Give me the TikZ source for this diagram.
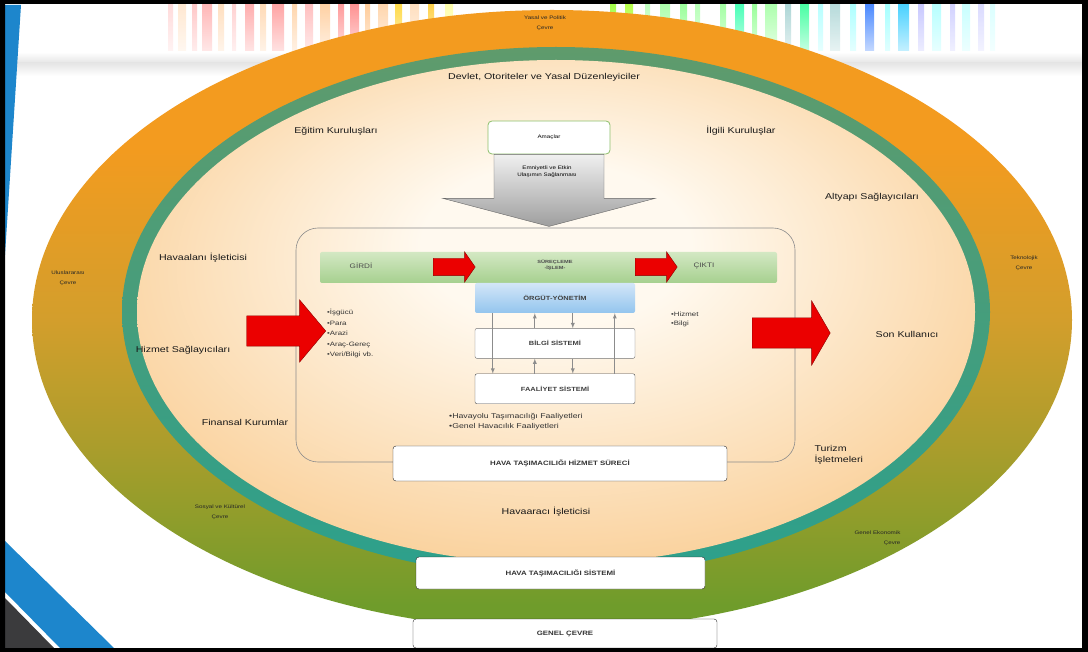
\documentclass[tikz,border=0pt]{standalone}
\usepackage{fontspec}
\setmainfont[FakeStretch=1.25]{Liberation Sans}
\usetikzlibrary{shapes,arrows,fit,calc,positioning,shadings}

\definecolor{ringorange}{HTML}{F39B1F}
\definecolor{ringgold}{HTML}{D39E2C}
\definecolor{ringgreen}{HTML}{6F9C2B}
\definecolor{tealtop}{HTML}{5F9B6C}
\definecolor{tealmid}{HTML}{3EA072}
\definecolor{tealbot}{HTML}{2CA08C}
\definecolor{creamin}{HTML}{FFF9EF}
\definecolor{creamout}{HTML}{F8C27C}
\definecolor{barlight}{HTML}{D3E8C3}
\definecolor{bardark}{HTML}{A6D08F}
\definecolor{orglight}{HTML}{D3E6F8}
\definecolor{orgdark}{HTML}{93C5EE}
\definecolor{slideblue}{HTML}{1D86CC}
\definecolor{slidegrey}{HTML}{3B3B3D}
\definecolor{goalgreen}{HTML}{8DBF6B}

\pgfdeclareverticalshading{ringshade}{100bp}{color(0bp)=(ringgreen); color(27bp)=(ringgreen); color(40bp)=(ringgold!60!ringgreen); color(50bp)=(ringgold); color(64bp)=(ringorange); color(100bp)=(ringorange)}
\pgfdeclareradialshading{creamglow}{\pgfpoint{0bp}{8bp}}{color(0bp)=(creamin); color(8bp)=(creamin); color(30bp)=(creamout!75!creamin); color(50bp)=(creamout)}

\begin{document}
\begin{tikzpicture}[x=1pt,y=-1pt,
    envtext/.style={font=\fontsize{5}{10}\selectfont,align=center,text=black!85},
    actor/.style={font=\fontsize{8.5}{11}\selectfont,text=black!90},
    syslabel/.style={draw=black!85,fill=white,rounded corners=3pt,font=\bfseries\fontsize{6.3}{8}\selectfont,text=black!80},
    unit/.style={rounded corners=2pt,minimum width=160pt,minimum height=30pt,font=\bfseries\fontsize{6}{8}\selectfont,text=black!75},
    bullets/.style={font=\fontsize{6.3}{10.5}\selectfont,align=left,text=black!80,inner sep=0pt,anchor=north west},
    redarrow/.style={single arrow,draw=red!55!black,fill=red!92!black,inner xsep=0pt,minimum width=0pt},
    link/.style={draw=black!45,line width=0.8pt,-latex}
  ]
  \useasboundingbox (0,0) rectangle (1088,652);
  \fill[white] (0,0) rectangle (1088,652);

  \foreach \sx/\sw/\sc in {168/5/red!20, 178/8/orange!25, 192/5/red!30, 202/10/red!40, 218/6/orange!35,
      232/4/red!25, 245/9/red!45, 260/6/orange!40, 272/12/red!50, 292/5/orange!45, 305/8/red!35,
      320/10/orange!50, 338/6/red!55, 350/9/red!60, 365/5/orange!55, 378/10/orange!45,
      395/7/yellow!60!orange, 410/9/orange!35, 428/6/yellow!50!orange, 445/8/yellow!45,
      610/6/yellow!50!green, 625/8/green!40!yellow, 645/5/green!35, 660/10/green!45, 680/7/green!55,
      695/5/green!40, 720/6/green!50, 735/9/green!40!cyan, 752/5/green!55, 765/12/green!45,
      785/6/teal!45, 800/9/green!50!cyan, 818/5/cyan!40, 830/10/teal!40, 850/6/cyan!45,
      865/9/cyan!35!blue, 885/5/cyan!50, 898/11/blue!25!cyan, 918/6/blue!30, 932/9/cyan!40,
      950/5/blue!25, 962/8/cyan!30, 978/6/blue!20, 990/5/cyan!20}
    \shade[top color=\sc, bottom color=white, opacity=0.7] (\sx,5) rectangle ++(\sw,68);
  \shade[top color=white, bottom color=black!10] (5,52) rectangle (1083,63);
  \shade[top color=black!10, bottom color=white] (5,63) rectangle (1083,76);

  \fill[slideblue] (5,5) -- (21,5) -- (5,255) -- cycle;
  \fill[slideblue] (5,541) -- (114,648) -- (60,648) -- (5,592) -- cycle;
  \fill[slidegrey] (5,598) -- (54,648) -- (5,648) -- cycle;

  \shade[shading=ringshade] (552,320) ellipse [x radius=520pt, y radius=310pt];
  \shade[top color=tealtop, middle color=tealmid, bottom color=tealbot] (556,312) ellipse [x radius=434pt, y radius=265pt];
  \shade[shading=creamglow] (556,312) ellipse [x radius=419pt, y radius=252pt];

  \node[envtext] (env_politic) at (545,23) {Yasal ve Politik\\Çevre};
  \node[envtext] (env_intl) at (68,278) {Uluslararası\\Çevre};
  \node[envtext] (env_tech) at (1024,263) {Teknolojik\\Çevre};
  \node[envtext] (env_social) at (220,512) {Sosyal ve Kültürel\\Çevre};
  \node[envtext,align=right,anchor=east] (env_economy) at (904,538) {Genel Ekonomik\\Çevre};

  \node[actor] (gov) at (544,77) {Devlet, Otoriteler ve Yasal Düzenleyiciler};
  \node[actor] (edu) at (336,131) {Eğitim Kuruluşları};
  \node[actor] (related) at (741,131) {İlgili Kuruluşlar};
  \node[actor] (infra) at (872,197) {Altyapı Sağlayıcıları};
  \node[actor] (airport) at (203,258) {Havaalanı İşleticisi};
  \node[actor] (service) at (183,350) {Hizmet Sağlayıcıları};
  \node[actor] (finance) at (245,422) {Finansal Kurumlar};
  \node[actor] (end_user) at (907,334) {Son Kullanıcı};
  \node[actor,align=left,anchor=west] (tourism) at (811,455) {Turizm\\İşletmeleri};
  \node[actor] (aircraft_op) at (546,512) {Havaaracı İşleticisi};

  \node[draw=black!45,line width=0.6pt,rounded corners=22pt,minimum width=499pt,minimum height=234pt] (process) at (545.5,345) {};

  \node[draw=goalgreen,line width=0.8pt,fill=white,rounded corners=4pt,minimum width=122pt,minimum height=33pt,font=\fontsize{5}{6}\selectfont] (goals) at (549,137.5) {Amaçlar};
  \shade[draw=black!60,top color=black!6,bottom color=black!38]
    (goals.south) ++(-55,0) -- ++(0,44) -- ++(-51,0) -- ++(106,28) -- ++(106,-28) -- ++(-51,0) -- ++(0,-44) -- cycle;
  \node[font=\fontsize{5}{7}\selectfont,align=center] (goal_text) at (547,172) {Emniyetli ve Etkin\\Ulaşımın Sağlanması};

  \node[rounded corners=2pt,top color=barlight,bottom color=bardark,minimum width=457pt,minimum height=31pt] (flow_bar) at (548.5,267.5) {};
  \node[font=\fontsize{6.5}{8}\selectfont,text=black!70] (input_lbl) at (361,266) {GİRDİ};
  \node[font=\bfseries\fontsize{4.5}{5.5}\selectfont,align=center,text=black!70] (proc_lbl) at (555,265) {SÜREÇLEME\\-İŞLEM-};
  \node[font=\fontsize{6.5}{8}\selectfont,text=black!70] (output_lbl) at (704,266) {ÇIKTI};
  \node[redarrow,anchor=tail,minimum height=42pt,inner ysep=8.5pt,single arrow head extend=6.5pt,single arrow tip angle=110] (flow_in) at (433,267) {};
  \node[redarrow,anchor=tail,minimum height=42pt,inner ysep=8.5pt,single arrow head extend=6.5pt,single arrow tip angle=110] (flow_out) at (635,267) {};

  \node[unit,top color=orglight,bottom color=orgdark] (org_mgmt) at (555,298) {ÖRGÜT-YÖNETİM};
  \node[unit,draw=black!55,fill=white,below=15pt of org_mgmt] (info_sys) {BİLGİ SİSTEMİ};
  \node[unit,draw=black!70,fill=white,below=15pt of info_sys] (activity_sys) {FAALİYET SİSTEMİ};

  \draw[link] ([xshift=18pt]org_mgmt.south west) -- ([xshift=18pt]activity_sys.north west);
  \draw[link] ([xshift=60pt]info_sys.north west) -- ([xshift=60pt]org_mgmt.south west);
  \draw[link] ([xshift=98pt]org_mgmt.south west) -- ([xshift=98pt]info_sys.north west);
  \draw[link] ([xshift=140pt]activity_sys.north west) -- ([xshift=140pt]org_mgmt.south west);
  \draw[link] ([xshift=60pt]activity_sys.north west) -- ([xshift=60pt]info_sys.south west);
  \draw[link] ([xshift=98pt]info_sys.south west) -- ([xshift=98pt]activity_sys.north west);

  \node[redarrow,anchor=tip,minimum height=79pt,inner ysep=15pt,single arrow head extend=16pt,single arrow tip angle=100] (in_arrow) at (326,331) {};
  \node[redarrow,anchor=tail,minimum height=78pt,inner ysep=15pt,single arrow head extend=17pt,single arrow tip angle=120] (out_arrow) at (752,333) {};

  \node[bullets] (in_list) at (327,309) {•İşgücü\\•Para\\•Arazi\\•Araç-Gereç\\•Veri/Bilgi vb.};
  \node[bullets,font=\fontsize{6.3}{9}\selectfont] (out_list) at (671,312) {•Hizmet\\•Bilgi};
  \node[bullets,font=\fontsize{7}{10}\selectfont] (activity_list) at (449,413) {•Havayolu Taşımacılığı Faaliyetleri\\•Genel Havacılık Faaliyetleri};

  \node[syslabel,minimum width=334pt,minimum height=35pt] (service_proc) at (560,463.5) {HAVA TAŞIMACILIĞI HİZMET SÜRECİ};
  \node[syslabel,minimum width=289pt,minimum height=32pt] (air_system) at (560.5,573) {HAVA TAŞIMACILIĞI SİSTEMİ};
  \node[syslabel,minimum width=304pt,minimum height=29pt] (general_env) at (565,633.5) {GENEL ÇEVRE};

  \fill[black,even odd rule] (0,0) rectangle (1088,652) (5,4) rectangle (1082,648);
\end{tikzpicture}
\end{document}
